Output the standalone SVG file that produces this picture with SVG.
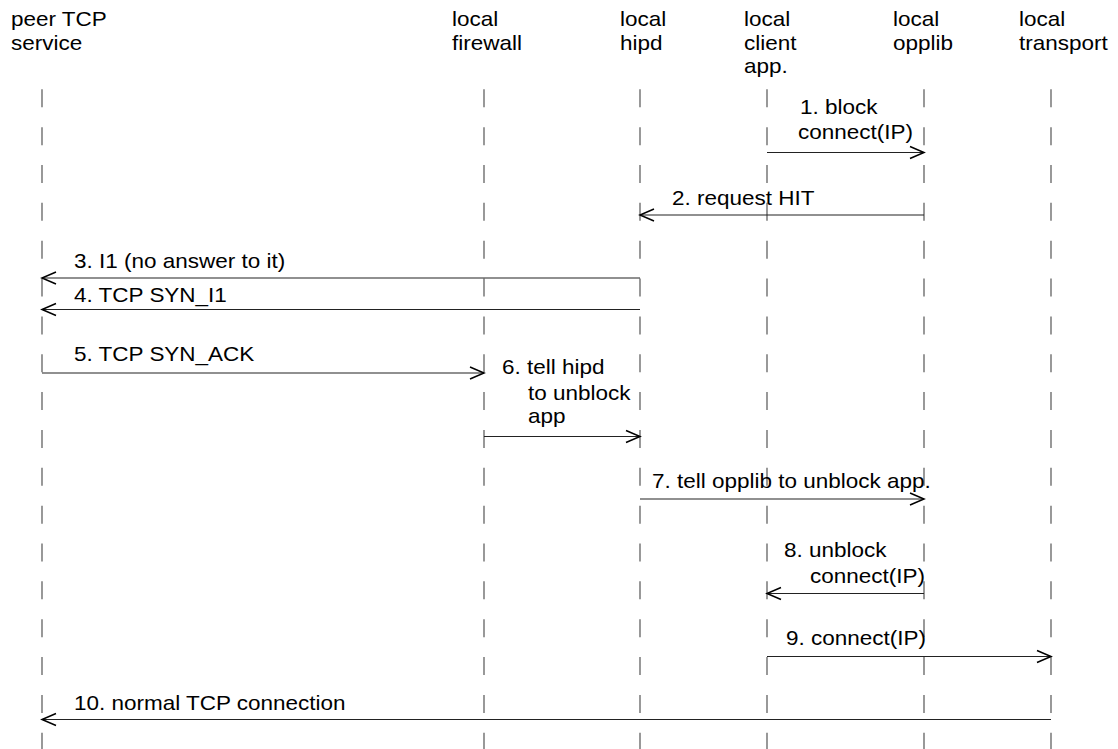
<svg xmlns="http://www.w3.org/2000/svg" width="1118" height="749" viewBox="0 0 1118 749">
  <defs>
    <style>
      text { font-family: "Liberation Sans", Arial, sans-serif; font-size: 20px; fill: #000; }
      .life { stroke: #555; stroke-width: 1.2; stroke-dasharray: 18 19.85; fill: none; }
      .msg { stroke: #222; stroke-width: 1.2; fill: none; marker-end: url(#open); }
    </style>
    <marker id="open" markerUnits="userSpaceOnUse" markerWidth="18" markerHeight="16" refX="15" refY="7" orient="auto" overflow="visible">
      <path d="M1,1 L15,7 L1,13" fill="none" stroke="#000" stroke-width="1.5"/>
    </marker>
  </defs>
  <rect width="1118" height="749" fill="#fff"/>

  <!-- participants: header label + dashed lifeline -->
  <g id="peer-tcp-service">
    <text transform="translate(11,26) scale(1.125,1)">peer TCP</text>
    <text transform="translate(11,50) scale(1.125,1)">service</text>
    <line class="life" x1="42" y1="89.3" x2="42" y2="749"/>
  </g>
  <g id="local-firewall">
    <text transform="translate(452,26) scale(1.125,1)">local</text>
    <text transform="translate(452,50) scale(1.125,1)">firewall</text>
    <line class="life" x1="484" y1="89.3" x2="484" y2="749"/>
  </g>
  <g id="local-hipd">
    <text transform="translate(620,26) scale(1.125,1)">local</text>
    <text transform="translate(620,50) scale(1.125,1)">hipd</text>
    <line class="life" x1="640" y1="89.3" x2="640" y2="749"/>
  </g>
  <g id="local-client-app">
    <text transform="translate(744,26) scale(1.125,1)">local</text>
    <text transform="translate(744,50) scale(1.125,1)">client</text>
    <text transform="translate(744,73) scale(1.125,1)">app.</text>
    <line class="life" x1="767" y1="89.3" x2="767" y2="749"/>
  </g>
  <g id="local-opplib">
    <text transform="translate(893,26) scale(1.125,1)">local</text>
    <text transform="translate(893,50) scale(1.125,1)">opplib</text>
    <line class="life" x1="924" y1="89.3" x2="924" y2="749"/>
  </g>
  <g id="local-transport">
    <text transform="translate(1019,26) scale(1.125,1)">local</text>
    <text transform="translate(1019,50) scale(1.125,1)">transport</text>
    <line class="life" x1="1051" y1="89.3" x2="1051" y2="749"/>
  </g>

  <!-- messages -->
  <g id="connectors">
    <line class="msg" x1="767" y1="152.5" x2="924" y2="152.5"/>
    <text transform="translate(800,114) scale(1.125,1)">1. block</text>
    <text transform="translate(798,139) scale(1.125,1)">connect(IP)</text>

    <line class="msg" x1="924" y1="215" x2="640" y2="215"/>
    <text transform="translate(672,205) scale(1.125,1)">2. request HIT</text>

    <line class="msg" x1="640" y1="278" x2="42" y2="278"/>
    <text transform="translate(74,268) scale(1.125,1)">3. I1 (no answer to it)</text>

    <line class="msg" x1="640" y1="309.5" x2="42" y2="309.5"/>
    <text transform="translate(74,302) scale(1.125,1)">4. TCP SYN_I1</text>

    <line class="msg" x1="42" y1="373" x2="484" y2="373"/>
    <text transform="translate(74,361) scale(1.125,1)">5. TCP SYN_ACK</text>

    <line class="msg" x1="484" y1="436.5" x2="640" y2="436.5"/>
    <text transform="translate(502,374) scale(1.125,1)">6. tell hipd</text>
    <text transform="translate(528,399.5) scale(1.125,1)">to unblock</text>
    <text transform="translate(528,423) scale(1.125,1)">app</text>

    <line class="msg" x1="640" y1="499" x2="924" y2="499"/>
    <text transform="translate(652,488) scale(1.125,1)">7. tell opplib to unblock app.</text>

    <line class="msg" x1="924" y1="593.5" x2="767" y2="593.5"/>
    <text transform="translate(784,557) scale(1.125,1)">8. unblock</text>
    <text transform="translate(810,583) scale(1.125,1)">connect(IP)</text>

    <line class="msg" x1="767" y1="656.5" x2="1051" y2="656.5"/>
    <text transform="translate(786,645) scale(1.125,1)">9. connect(IP)</text>

    <line class="msg" x1="1051" y1="719.5" x2="42" y2="719.5"/>
    <text transform="translate(74,709.5) scale(1.125,1)">10. normal TCP connection</text>
  </g>
</svg>
